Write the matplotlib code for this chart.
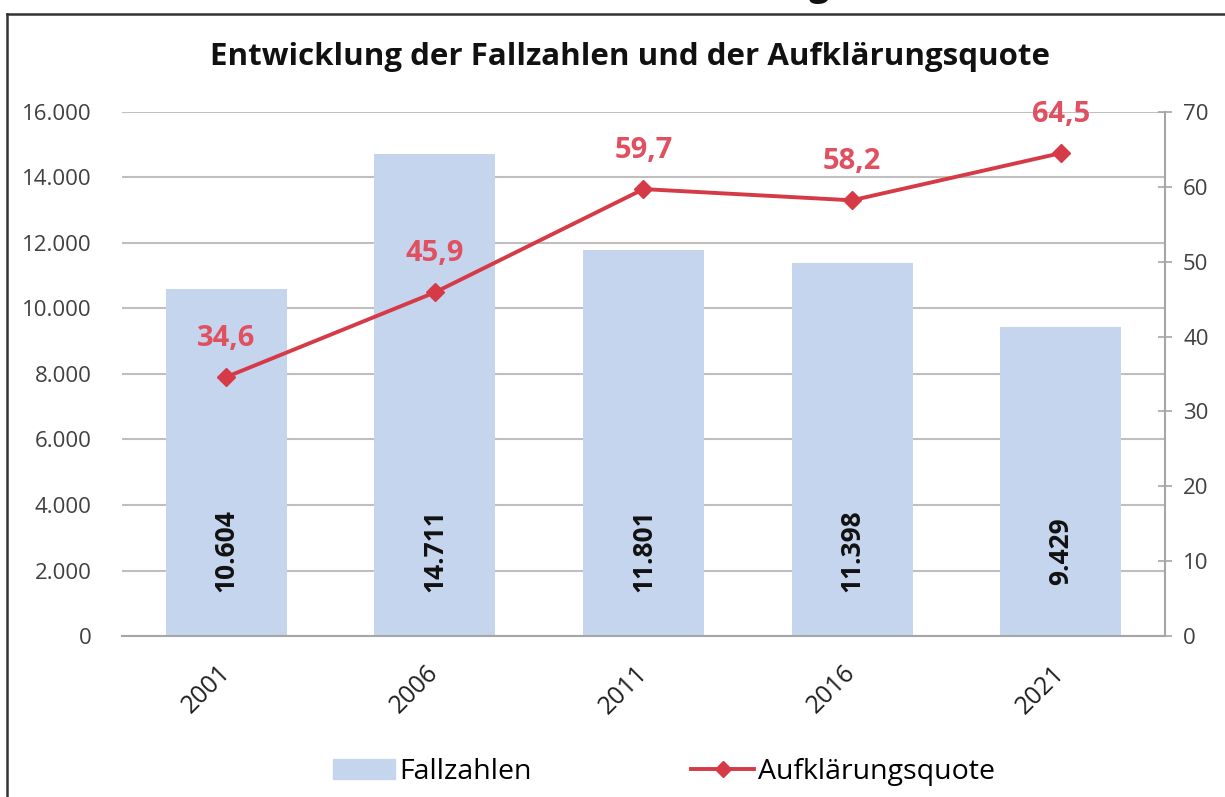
import numpy as np
import matplotlib.pyplot as plt
from matplotlib.lines import Line2D

plt.rcParams['font.family'] = ['Open Sans', 'DejaVu Sans']

# DATA
years = ['2001', '2006', '2011', '2016', '2021']
fallzahlen = [10604, 14711, 11801, 11398, 9429]
quote = [34.6, 45.9, 59.7, 58.2, 64.5]
fall_labels = ['10.604', '14.711', '11.801', '11.398', '9.429']
quote_labels = ['34,6', '45,9', '59,7', '58,2', '64,5']

bar_color = '#c5d5ed'
line_color = '#d63a46'
label_red = '#e05060'
grid_color = '#bfbfbf'

fig = plt.figure(figsize=(12.25, 7.97), dpi=100)
ax = fig.add_axes([0.0996, 0.202, 0.8514, 0.6575])
x = np.arange(len(years))

# bars
ax.bar(x, fallzahlen, width=0.58, color=bar_color, zorder=2, label='Fallzahlen')
ax.set_xlim(-0.5, len(years) - 0.5)
ax.set_ylim(0, 16000)
ax.set_yticks(np.arange(0, 16001, 2000))
ax.set_yticklabels(['0' if v == 0 else f'{v // 1000}.000' for v in range(0, 16001, 2000)])
ax.yaxis.grid(True, color=grid_color, linewidth=1.5, zorder=0)
ax.set_axisbelow(True)
ax.tick_params(axis='y', length=0, pad=22, labelsize=16, colors='#404040')
ax.tick_params(axis='x', length=0, pad=24, labelsize=18, colors='#202020')
ax.set_xticks(x)
ax.set_xticklabels(years, rotation=45, ha='right', rotation_mode='anchor', va='center')
for s in ['top', 'left', 'right']:
    ax.spines[s].set_visible(False)
ax.spines['bottom'].set_color('#a6a6a6')
ax.spines['bottom'].set_linewidth(1.5)

for xi, lab in zip(x, fall_labels):
    ax.text(xi, 2600, lab, rotation=90, ha='center', va='center',
            fontsize=19, fontweight='bold', color='#111111', zorder=4)

# line on secondary axis
ax2 = ax.twinx()
ax2.plot(x, quote, color=line_color, linewidth=2.8, marker='D', markersize=9,
         zorder=5, label='Aufklärungsquote')
ax2.set_ylim(0, 70)
ax2.set_yticks(np.arange(0, 71, 10))
ax2.tick_params(axis='y', direction='inout', length=10, width=1.2, color='#a6a6a6',
                pad=8, labelsize=16, labelcolor='#404040')
for s in ['top', 'left', 'bottom']:
    ax2.spines[s].set_visible(False)
ax2.spines['right'].set_color('#a6a6a6')
ax2.spines['right'].set_linewidth(1.5)

for xi, q, lab in zip(x, quote, quote_labels):
    ax2.annotate(lab, (xi, q), xytext=(0, 28), textcoords='offset points',
                 ha='center', va='center', fontsize=21, fontweight='bold', color=label_red)

# title
fig.text(0.514, 0.928, 'Entwicklung der Fallzahlen und der Aufklärungsquote',
         ha='center', va='center', fontsize=22.5, fontweight='bold', color='#111111')

# legend
handles = [plt.Rectangle((0, 0), 1, 1, color=bar_color),
           Line2D([0], [0], color=line_color, linewidth=2.8, marker='D', markersize=8)]
fig.legend(handles, ['Fallzahlen', 'Aufklärungsquote'], loc='center',
           bbox_to_anchor=(0.542, 0.031), ncol=2, frameon=False, fontsize=20.5,
           handlelength=2.2, handletextpad=0.15, columnspacing=5.6)

# frame and cut-off heading fragment
fig.add_artist(Line2D([0.0057, 0.0057], [0, 0.983], color='#333333', linewidth=1.8))
fig.add_artist(Line2D([0.0057, 1.0], [0.983, 0.983], color='#333333', linewidth=1.8))
fig.text(0.669, 1.006, 'g', ha='center', va='baseline', fontsize=26,
         fontweight='bold', color='#111111')

fig.savefig('out.png', dpi=100)
